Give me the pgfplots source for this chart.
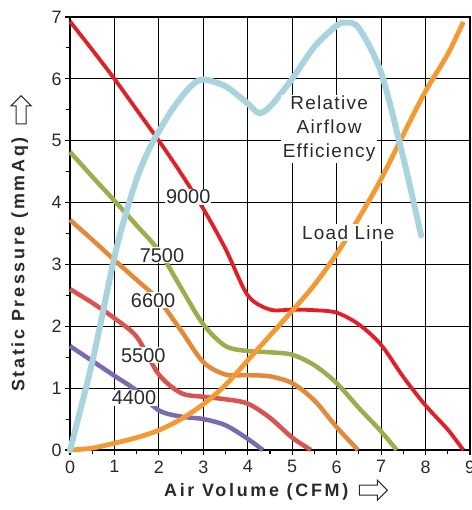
\documentclass[border=0pt]{standalone}
\usepackage{pgfplots}
\pgfplotsset{compat=1.18}
\usetikzlibrary{shapes.arrows}
\usepackage{fontspec}
\setmainfont{Liberation Sans}
\newfontfamily\spacedfont[LetterSpace=15]{Liberation Sans}
\newfontfamily\lblfont[LetterSpace=7]{Liberation Sans}
\definecolor{cRed}{HTML}{E41E26}
\definecolor{cGreen}{HTML}{9AAE4C}
\definecolor{cOrangeD}{HTML}{E4893A}
\definecolor{cRedL}{HTML}{D9544E}
\definecolor{cPurple}{HTML}{7C6AAE}
\definecolor{cLoad}{HTML}{F39A32}
\definecolor{cBlue}{HTML}{A9D4DE}
\definecolor{txt}{HTML}{2A2A2A}
\tikzset{hollowarrow/.style={single arrow, draw=txt, fill=white, line width=1bp, minimum height=28bp, minimum width=20bp, inner sep=4.5bp, single arrow head extend=5bp, anchor=center}}
\begin{document}
\begin{tikzpicture}
\begin{axis}[
  scale only axis, width=400bp, height=433bp,
  xmin=0, xmax=9, ymin=0, ymax=7,
  xtick={0,1,...,9}, ytick={0,1,...,7},
  minor tick num=1,
  tick pos=left,
  grid=major,
  major grid style={black, line width=1.1bp},
  axis line style={black, line width=1.3bp},
  every tick/.style={black, line width=1.1bp},
  tick align=outside, major tick length=5bp, minor tick length=4bp,
  ticklabel style={font=\fontsize{18}{18}\selectfont, text=txt},
  xticklabel style={yshift=-2bp},
  /pgf/number format/assume math mode=true,
  clip=false,
]
% fan curves
\addplot[cPurple, line width=4.5bp, smooth] coordinates {
 (0,1.68) (0.5,1.44) (1,1.2) (1.5,0.96) (2,0.64) (2.5,0.54) (3,0.5) (3.5,0.4) (4,0.18) (4.34,0)};
\addplot[cRedL, line width=4.5bp, smooth] coordinates {
 (0,2.6) (0.5,2.38) (1,2.13) (1.5,1.83) (2,1.22) (2.5,0.92) (3,0.86) (3.5,0.82) (4,0.75) (4.5,0.52) (5,0.2) (5.42,0)};
\addplot[cOrangeD, line width=4.5bp, smooth] coordinates {
 (0,3.72) (0.5,3.4) (1,3.07) (1.5,2.75) (2,2.42) (2.5,1.93) (3,1.42) (3.5,1.22) (4,1.21) (4.5,1.19) (5,1.08) (5.5,0.8) (6,0.37) (6.48,0)};
\addplot[cGreen, line width=4.5bp, smooth] coordinates {
 (0,4.82) (0.5,4.42) (1,4.03) (1.5,3.63) (2,3.22) (2.5,2.62) (3,2.03) (3.5,1.68) (4,1.6) (4.5,1.58) (5,1.54) (5.5,1.37) (6,1.08) (6.5,0.68) (7,0.3) (7.35,0)};
\addplot[cRed, line width=3.8bp, smooth] coordinates {
 (0,6.93) (0.5,6.47) (1,6.0) (1.5,5.5) (2,5.0) (2.5,4.47) (3,3.9) (3.5,3.25) (4,2.5) (4.5,2.27) (5,2.27) (5.5,2.26) (6,2.22) (6.5,2.03) (7,1.7) (7.5,1.18) (8,0.72) (8.5,0.33) (8.85,0)};
% load line
\addplot[cLoad, line width=4.8bp, smooth] coordinates {
 (0,0) (0.5,0.03) (1,0.11) (1.5,0.2) (2,0.32) (2.5,0.5) (3,0.74) (3.5,1.05) (4,1.45) (4.5,1.85) (5,2.25) (5.5,2.67) (6,3.17) (6.5,3.75) (7,4.38) (7.5,5.1) (8,5.8) (8.5,6.4) (8.85,6.92)};
% efficiency
\addplot[cBlue, line width=6bp, smooth, line cap=round] coordinates {
 (0,0) (0.5,1.42) (1,3.12) (1.25,3.8) (1.5,4.38) (1.75,4.82) (2,5.15) (2.25,5.45) (2.5,5.7) (2.75,5.9) (3,5.99) (3.5,5.88) (4,5.6) (4.25,5.45) (4.5,5.55) (5,6.0) (5.5,6.52) (6,6.86) (6.2,6.91) (6.5,6.82) (7,6.1) (7.5,4.72) (7.9,3.47)};
% labels
\node[fill=white, inner sep=1bp, text=txt, font=\fontsize{20}{20}\selectfont] at (axis cs:2.66,4.09) {9000};
\node[fill=white, inner sep=1bp, text=txt, font=\fontsize{20}{20}\selectfont] at (axis cs:2.07,3.15) {7500};
\node[fill=white, inner sep=1bp, text=txt, font=\fontsize{20}{20}\selectfont] at (axis cs:1.87,2.42) {6600};
\node[fill=white, inner sep=1bp, text=txt, font=\fontsize{20}{20}\selectfont] at (axis cs:1.65,1.53) {5500};
\node[fill=white, inner sep=1bp, text=txt, font=\fontsize{20}{20}\selectfont] at (axis cs:1.44,0.84) {4400};
\node[fill=white, inner sep=1.5bp, text=txt, align=center, font=\lblfont\fontsize{19}{24}\selectfont] at (axis cs:5.83,5.19) {Relative\\Airflow\\Efficiency};
\node[fill=white, inner sep=1.5bp, text=txt, font=\lblfont\fontsize{19}{19}\selectfont] at (axis cs:6.26,3.51) {Load Line};
% axis titles
\node[text=txt, font=\spacedfont\bfseries\fontsize{18}{18}\selectfont, anchor=center] at (axis cs:4.19,-0.68) {Air Volume (CFM)};
\node[hollowarrow] at (axis cs:6.77,-0.65) {};
\node[text=txt, rotate=90, font=\spacedfont\bfseries\fontsize{18}{18}\selectfont, anchor=center] at (axis cs:-1.13,3.0) {Static Pressure (mmAq)};
\node[hollowarrow, shape border rotate=90] at (axis cs:-1.1,5.46) {};
\end{axis}
\pgfresetboundingbox
\path[use as bounding box] (-70bp,-60bp) rectangle (402bp,450bp);
\end{tikzpicture}
\end{document}
